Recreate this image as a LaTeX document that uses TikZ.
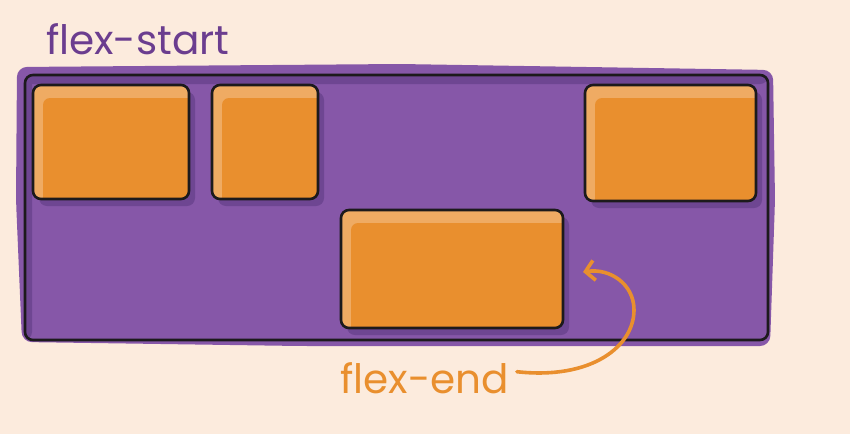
\documentclass[tikz,border=0pt]{standalone}
\usepackage{fontspec}
\setmainfont{Poppins}
\usetikzlibrary{arrows.meta,shadows}
\definecolor{bg}{HTML}{FCEBDD}
\definecolor{purp}{HTML}{8657A8}
\definecolor{purpdark}{HTML}{6E4692}
\definecolor{purptext}{HTML}{6B3D8F}
\definecolor{orng}{HTML}{E98F2E}
\definecolor{hl}{HTML}{EFAB63}
\definecolor{outl}{HTML}{1C1A1C}
\tikzset{
  container/.style={draw=outl, line width=2.6pt, fill=purp, rounded corners=8pt, inner sep=0pt,
    path picture={
      \fill[purpdark] (path picture bounding box.north west) rectangle ([yshift=-9pt]path picture bounding box.north east);
      \fill[purpdark] (path picture bounding box.north west) rectangle ([xshift=7pt]path picture bounding box.south west);
    }},
  itembox/.style={draw=outl, line width=2.6pt, fill=hl, rounded corners=8pt, inner sep=0pt,
    drop shadow={shadow xshift=6pt, shadow yshift=-7pt, fill=purpdark, opacity=1},
    path picture={
      \fill[orng, rounded corners=7pt] ([xshift=10pt,yshift=-13pt]path picture bounding box.north west)
        rectangle ([xshift=12pt,yshift=-12pt]path picture bounding box.south east);
    }},
  lbl/.style={font=\fontsize{40.5}{44}\selectfont, inner sep=0pt},
  arrowc/.style={draw=orng, line width=3.6pt, line cap=round, line join=round,
    -{Straight Barb[length=9pt,width=20pt,line width=3.6pt]}}
}
\begin{document}
\begin{tikzpicture}[x=1pt,y=-1pt]
\useasboundingbox (0,0) rectangle (850,434);
\fill[bg] (0,0) rectangle (850,434);
% sketchy purple fill spilling beyond outline
\fill[purp, rounded corners=10pt] (17,67) -- (400,64) -- (773,70) -- (775,200) -- (770,346) -- (300,346) -- (22,342) -- (16,200) -- cycle;
\node[container, minimum width=743pt, minimum height=265pt] (cont) at (396.5,207.5) {};
% items
\node[itembox, minimum width=156pt, minimum height=114pt] (b1) at (111,142) {};
\node[itembox, minimum width=106pt, minimum height=114pt] (b2) at (265,142) {};
\node[itembox, minimum width=171pt, minimum height=116pt] (b3) at (670.5,143) {};
\node[itembox, minimum width=222pt, minimum height=118pt] (b4) at (452,269) {};
% labels
\node[lbl, text=purptext, anchor=base west] (fs) at (46,54) {flex-start};
\node[lbl, text=orng, anchor=base west] (fe) at (340,393) {flex-end};
\coordinate (tip) at (583,272);
\draw[arrowc] ([xshift=8pt,yshift=6pt]fe.east) .. controls (592,380) and (634,346) .. (634,310)
  .. controls (634,284) and (610,268) .. (tip);
\end{tikzpicture}
\end{document}
